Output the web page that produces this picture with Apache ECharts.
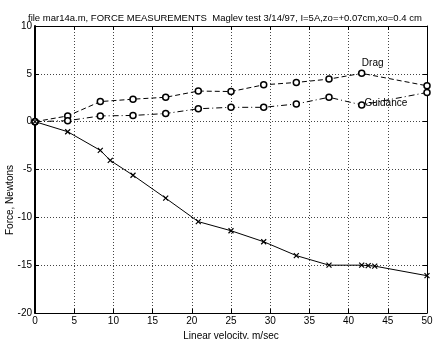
<!DOCTYPE html>
<html><head><meta charset="utf-8">
<script src="https://cdn.jsdelivr.net/npm/echarts@6/dist/echarts.min.js"></script>
<style>html,body{margin:0;padding:0;background:#fff}#c{width:435px;height:339px}</style>
</head><body><div id="c"></div>
<script>
var titleText = "file mar14a.m, FORCE MEASUREMENTS  Maglev test 3/14/97, I=5A,zo=+0.07cm,xo=0.4 cm";
var xName = "Linear velocity, m/sec";
var yName = "Force, Newtons";
var velocityDG = [0, 4.17, 8.33, 12.5, 16.67, 20.83, 25, 29.17, 33.33, 37.5, 41.67, 50];
var drag = [0, 0.6, 2.1, 2.35, 2.55, 3.2, 3.15, 3.85, 4.1, 4.45, 5.05, 3.75];
var guidance = [0, 0.1, 0.6, 0.65, 0.85, 1.35, 1.5, 1.5, 1.85, 2.55, 1.75, 3.05];
var velocityL = [0, 4.17, 8.33, 9.6, 12.5, 16.67, 20.83, 25, 29.17, 33.33, 37.5, 41.67, 42.5, 43.33, 50];
var lift = [0, -1.05, -3.0, -4.05, -5.6, -8.0, -10.45, -11.4, -12.55, -14.0, -15.0, -15.0, -15.05, -15.1, -16.1];
var xTicks = [0, 5, 10, 15, 20, 25, 30, 35, 40, 45, 50];
var yTicks = [-20, -15, -10, -5, 0, 5, 10];

function pairs(xs, ys) { return xs.map(function (x, i) { return [x, ys[i]]; }); }
var FONT = "Liberation Sans, Arial, sans-serif";
var chart = echarts.init(document.getElementById('c'), null, {renderer: 'canvas'});
var axisCommon = {
  axisLine: {show: true, onZero: false, lineStyle: {color: '#000', width: 1}},
  axisTick: {show: true, inside: true, length: 4, lineStyle: {color: '#000'}},
  splitLine: {show: false}
};
var labelIdx = velocityDG.indexOf(41.67);
var dragData = pairs(velocityDG, drag).map(function (p, i) {
  if (i === labelIdx) return {value: p, label: {show: true, formatter: 'Drag', position: 'top', offset: [11, 4], color: '#000', fontSize: 10, fontFamily: FONT}};
  return p;
});
var guidData = pairs(velocityDG, guidance).map(function (p, i) {
  if (i === labelIdx) return {value: p, label: {show: true, formatter: 'Guidance', position: 'right', offset: [-6, -2], color: '#000', fontSize: 10, fontFamily: FONT}};
  return p;
});
chart.setOption({
  animation: false,
  backgroundColor: '#fff',
  title: {text: titleText, left: 23, top: 8, textStyle: {fontSize: 9.5, fontWeight: 'normal', color: '#000', fontFamily: FONT}},
  grid: {left: 35, right: 8, top: 26, bottom: 26, containLabel: false, outerBoundsMode: 'none'},
  graphic: [{type: 'text', left: 5, top: 165, rotation: Math.PI / 2,
    style: {text: yName, fontSize: 10, fontFamily: FONT, fill: '#000'}}],
  xAxis: [
    Object.assign({type: 'value', min: 0, max: 50, interval: 5, position: 'bottom',
      name: xName, nameLocation: 'middle', nameGap: 14,
      nameTextStyle: {fontSize: 10, color: '#000', fontFamily: FONT},
      axisLabel: {color: '#000', fontSize: 10, fontFamily: FONT, margin: 3},
    }, axisCommon, {splitLine: {show: true, lineStyle: {type: [1, 2], color: '#444', width: 1}}}),
    Object.assign({type: 'value', min: 0, max: 50, interval: 5, position: 'top', axisLabel: {show: false}}, axisCommon)
  ],
  yAxis: [
    Object.assign({type: 'value', min: -20, max: 10, interval: 5, position: 'left',
      axisLabel: {color: '#000', fontSize: 10, fontFamily: FONT, margin: 3},
    }, axisCommon, {axisLine: {show: true, onZero: false, lineStyle: {color: '#000', width: 2}},
      splitLine: {show: true, lineStyle: {type: [1, 2], color: '#444', width: 1}}}),
    Object.assign({type: 'value', min: -20, max: 10, interval: 5, position: 'right', axisLabel: {show: false}}, axisCommon)
  ],
  series: [
    {name: 'Drag', type: 'line', data: dragData, symbol: 'circle', symbolSize: 6,
      itemStyle: {color: '#fff', borderColor: '#000', borderWidth: 1.5},
      lineStyle: {color: '#000', width: 1, type: [5, 3]}},
    {name: 'Guidance', type: 'line', data: guidData, symbol: 'circle', symbolSize: 6,
      itemStyle: {color: '#fff', borderColor: '#000', borderWidth: 1.5},
      lineStyle: {color: '#000', width: 1, type: [6, 3, 1, 3]}},
    {name: 'Lift', type: 'line', data: pairs(velocityL, lift), symbol: 'path://M0,0L10,10M10,0L0,10', symbolSize: 5,
      itemStyle: {color: 'none', borderColor: '#000', borderWidth: 1.2},
      lineStyle: {color: '#000', width: 1, type: 'solid'}}
  ]
});
</script></body></html>
